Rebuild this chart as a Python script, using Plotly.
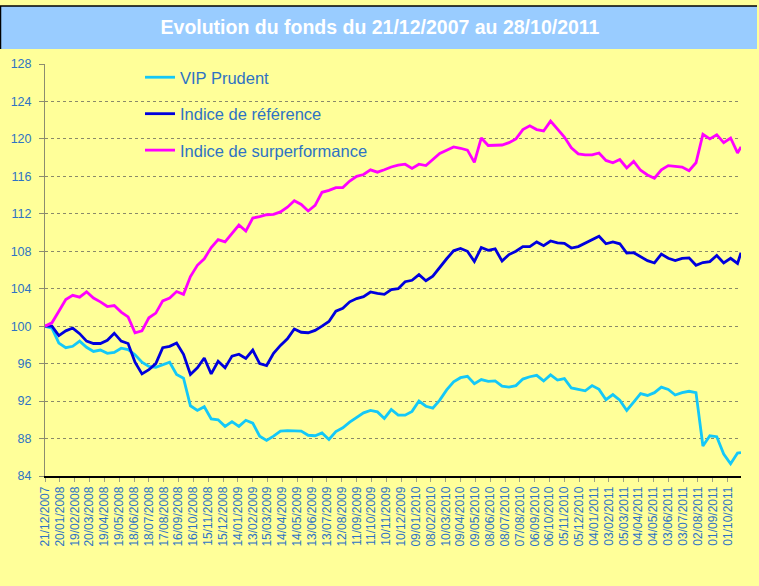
import pandas as pd
import plotly.graph_objects as go

# ---------------- data ----------------
title_text = "Evolution du fonds du 21/12/2007 au 28/10/2011"
series_names = ["VIP Prudent", "Indice de référence", "Indice de surperformance"]

# observation dates: every two weeks from 21/12/2007, plus the last date 28/10/2011
dates = list(pd.date_range("2007-12-21", periods=101, freq="14D")) + [pd.Timestamp("2011-10-28")]

vip_prudent = [
    100.0, 99.8, 98.2, 97.7, 97.85, 98.4, 97.75, 97.3, 97.45, 97.1,
    97.2, 97.65, 97.5, 96.95, 96.15, 95.7, 95.6, 95.9, 96.15, 94.85,
    94.45, 91.5, 91.0, 91.4, 90.1, 90.0, 89.3, 89.8, 89.3, 89.95,
    89.65, 88.25, 87.8, 88.25, 88.8, 88.85, 88.85, 88.8, 88.35, 88.3,
    88.6, 87.9, 88.75, 89.15, 89.75, 90.25, 90.75, 91.0, 90.85, 90.15,
    91.1, 90.5, 90.5, 90.9, 92.0, 91.45, 91.25, 92.1, 93.2, 94.05,
    94.5, 94.65, 93.85, 94.3, 94.1, 94.15, 93.6, 93.5, 93.65, 94.35,
    94.6, 94.75, 94.15, 94.8, 94.25, 94.4, 93.4, 93.25, 93.1, 93.65,
    93.25, 92.15, 92.7, 92.1, 91.0, 91.9, 92.8, 92.6, 92.9, 93.5,
    93.25, 92.65, 92.9, 93.05, 92.9, 87.2, 88.3, 88.2, 86.35, 85.3,
    86.45, 86.5,
]

indice_reference = [
    100.0, 100.0, 99.0, 99.5, 99.8, 99.2, 98.4, 98.15, 98.15, 98.5,
    99.25, 98.4, 98.15, 96.15, 94.9, 95.35, 96.0, 97.7, 97.85, 98.2,
    97.0, 94.85, 95.55, 96.6, 94.9, 96.25, 95.55, 96.8, 97.0, 96.55,
    97.45, 96.0, 95.8, 97.1, 97.95, 98.65, 99.7, 99.35, 99.3, 99.55,
    100.0, 100.5, 101.6, 101.9, 102.6, 102.95, 103.15, 103.65, 103.5, 103.4,
    103.9, 104.0, 104.75, 104.9, 105.5, 104.85, 105.35, 106.3, 107.2, 108.05,
    108.3, 108.0, 106.9, 108.4, 108.1, 108.25, 106.95, 107.65, 108.0, 108.5,
    108.5, 109.0, 108.6, 109.1, 108.9, 108.85, 108.35, 108.5, 108.85, 109.2,
    109.6, 108.8, 109.0, 108.8, 107.8, 107.85, 107.4, 107.0, 106.75, 107.7,
    107.25, 107.0, 107.25, 107.3, 106.5, 106.8, 106.9, 107.55, 106.75, 107.25,
    106.7, 107.85,
]

indice_surperformance = [
    100.0, 100.36, 101.6, 102.85, 103.3, 103.1, 103.67, 103.0, 102.6, 102.1,
    102.2, 101.5, 101.0, 99.3, 99.5, 100.9, 101.4, 102.7, 103.0, 103.7,
    103.4, 105.3, 106.5, 107.2, 108.4, 109.25, 109.0, 109.9, 110.8, 110.15,
    111.55, 111.7, 111.9, 111.95, 112.2, 112.7, 113.4, 113.0, 112.3, 112.9,
    114.3, 114.5, 114.8, 114.8, 115.5, 116.0, 116.2, 116.7, 116.45, 116.7,
    117.0, 117.2, 117.3, 116.85, 117.3, 117.15, 117.8, 118.45, 118.8, 119.15,
    119.0, 118.8, 117.5, 120.1, 119.3, 119.3, 119.35, 119.6, 120.0, 121.0,
    121.4, 121.0, 120.85, 121.9, 121.1, 120.2, 119.05, 118.4, 118.3, 118.3,
    118.5, 117.7, 117.45, 117.8, 116.9, 117.6, 116.65, 116.15, 115.8, 116.7,
    117.15, 117.1, 117.0, 116.6, 117.45, 120.5, 120.0, 120.45, 119.6, 120.1,
    118.5, 119.15,
]

tick_labels = [
    "21/12/2007", "20/01/2008", "19/02/2008", "20/03/2008", "19/04/2008", "19/05/2008",
    "18/06/2008", "18/07/2008", "17/08/2008", "16/09/2008", "16/10/2008", "15/11/2008",
    "15/12/2008", "14/01/2009", "13/02/2009", "15/03/2009", "14/04/2009", "14/05/2009",
    "13/06/2009", "13/07/2009", "12/08/2009", "11/09/2009", "11/10/2009", "10/11/2009",
    "10/12/2009", "09/01/2010", "08/02/2010", "10/03/2010", "09/04/2010", "09/05/2010",
    "08/06/2010", "08/07/2010", "07/08/2010", "06/09/2010", "06/10/2010", "05/11/2010",
    "05/12/2010", "04/01/2011", "03/02/2011", "05/03/2011", "04/04/2011", "04/05/2011",
    "03/06/2011", "03/07/2011", "02/08/2011", "01/09/2011", "01/10/2011",
]
y_ticks = [84, 88, 92, 96, 100, 104, 108, 112, 116, 120, 124, 128]

# ---------------- styling ----------------
W, H = 759, 586
ML, MR, MT, MB = 45, 18, 64, 110
BG = "#FFFF99"
TXT = "#2E73C4"
FONT = "Arial, Liberation Sans, sans-serif"
colors = ["#14C8F8", "#0000DD", "#FF00FF"]

tick_dates = [pd.to_datetime(t, format="%d/%m/%Y") for t in tick_labels]

pw, ph = W - ML - MR, H - MT - MB
def px_x(p):
    return (p - ML) / pw
def px_y(p):
    return 1 - (p - MT) / ph

fig = go.Figure()
for name, vals, col in zip(series_names, [vip_prudent, indice_reference, indice_surperformance], colors):
    fig.add_trace(go.Scatter(x=dates, y=vals, name=name, mode="lines",
                             line=dict(color=col, width=2.8), legendgroup=name))

fig.update_layout(
    width=W, height=H,
    margin=dict(l=ML, r=MR, t=MT, b=MB),
    paper_bgcolor=BG, plot_bgcolor=BG,
    font=dict(family=FONT, color=TXT, size=12),
    title=dict(text="<b>" + title_text + "</b>", x=px_x(380), xref="paper", xanchor="center",
               y=1 - 27.5 / H, yanchor="middle",
               font=dict(family=FONT, size=19.5, color="white")),
    showlegend=True,
    legend=dict(x=px_x(140), y=px_y(60), xanchor="left", yanchor="top",
                bgcolor="rgba(0,0,0,0)", font=dict(size=16.5, color=TXT, family=FONT),
                tracegroupgap=12, itemwidth=30),
    xaxis=dict(type="date", range=[dates[0], dates[-1]],
               tickmode="array", tickvals=tick_dates, ticktext=tick_labels,
               tickangle=-90, tickfont=dict(size=12, color=TXT),
               showline=True, linecolor="black", linewidth=1.5,
               ticks="outside", ticklen=4, tickcolor="#A0A080",
               showgrid=False, zeroline=False),
    yaxis=dict(range=[84, 128], tickvals=y_ticks, tickfont=dict(size=12.5, color=TXT),
               showline=True, linecolor="#8C8C70", linewidth=1,
               ticks="outside", ticklen=5, tickcolor="#8C8C70", ticklabelstandoff=5,
               showgrid=True, gridcolor="#8A8A6A", griddash="dot", gridwidth=1,
               zeroline=False),
    shapes=[
        dict(type="rect", xref="paper", yref="paper",
             x0=px_x(0), x1=px_x(757), y0=px_y(49), y1=px_y(6),
             fillcolor="#99CCFF", line=dict(width=0), layer="below"),
        dict(type="line", xref="paper", yref="paper",
             x0=px_x(0), x1=px_x(757), y0=px_y(6), y1=px_y(6),
             line=dict(color="black", width=1.5)),
        dict(type="line", xref="paper", yref="paper",
             x0=px_x(0.5), x1=px_x(0.5), y0=px_y(49), y1=px_y(6),
             line=dict(color="black", width=1.5)),
    ],
)

fig.write_html(
    "out.html",
    config={"displayModeBar": False},
    post_script="document.body.style.margin='0';document.body.style.padding='0';"
                "document.body.style.background='#FFFF99';",
)
